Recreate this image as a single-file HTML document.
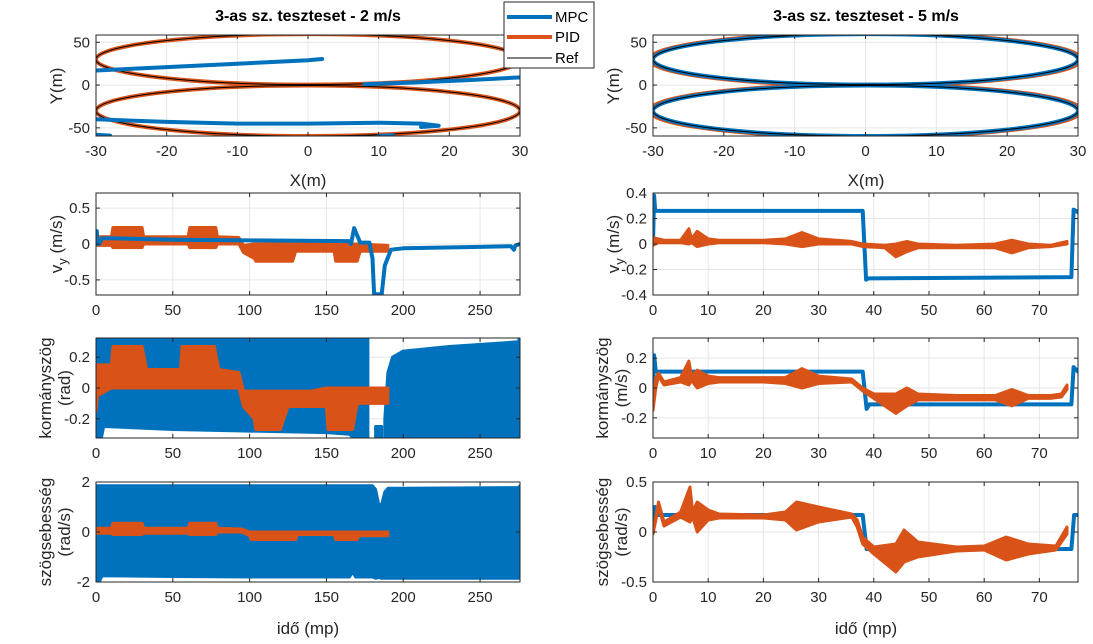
<!DOCTYPE html>
<html><head><meta charset="utf-8"><style>
html,body{margin:0;padding:0;background:#fff}
svg{display:block;font-family:"Liberation Sans",Arial,sans-serif}
</style></head><body>
<svg id="fig" width="1093" height="644" viewBox="0 0 1093 644" xmlns="http://www.w3.org/2000/svg">
<text x="308" y="21" font-size="16" font-weight="bold" text-anchor="middle" fill="#000">3-as sz. teszteset - 2 m/s</text>
<text x="866" y="21" font-size="16" font-weight="bold" text-anchor="middle" fill="#000">3-as sz. teszteset - 5 m/s</text>
</svg>
<script>
// ---------- DATA ----------
const xTicksTraj = [-30,-20,-10,0,10,20,30];
const yTicksTraj = [-50,0,50];
const xTicksLeft = [0,50,100,150,200,250];
const xTicksRight = [0,10,20,30,40,50,60,70];
const refEllipses = [[0,30,30,29.5],[0,-30,30,29.5]]; // cx, cy, rx, ry (m)
const mpcLeftTraj1 = [[-30,17],[-20,21],[-10,25],[0,29],[2,30.5]];
const mpcLeftTraj2 = [[8,1],[15,3],[22,5.5],[30,9]];
const mpcLeftTraj3 = [[-30,-40],[-20,-43],[-10,-45],[0,-45],[10,-44],[16,-45],[18.5,-47.5],[16,-49]];
const mpcLeftTraj4 = [[-30,-58],[-28,-59]];
const mpcLeftTraj5 = [[10,-59.5],[12,-58.5]];
// Row 2 left: v_y
const vyMpcL_t = [0,0.5,1,2,4,10,50,100,165,166,168,170,172,178,180,181,186,188,192,200,250,270,272,273,276];
const vyMpcL_v = [0.05,0.18,0.0,0.0,0.08,0.08,0.06,0.05,0.04,0.0,0.22,0.12,0.02,0.02,-0.2,-0.7,-0.7,-0.3,-0.08,-0.06,-0.04,-0.03,-0.08,-0.02,0.0];
const vyPidL_t  = [0,10,11,30,31,60,61,78,79,93,96,103,104,128,130,150,155,156,170,172,190];
const vyPidL_hi = [0.1,0.1,0.23,0.23,0.1,0.1,0.23,0.23,0.1,0.09,-0.02,0.0,0.0,0.0,0.0,0.02,0.0,0.0,0.0,0.0,-0.02];
const vyPidL_lo = [-0.02,-0.02,-0.05,-0.05,0.0,0.0,-0.05,-0.05,0.0,0.0,-0.12,-0.2,-0.24,-0.24,-0.1,-0.1,-0.1,-0.24,-0.24,-0.1,-0.1];
// Row 3 left: steering
const stMpcL_t  = [0,3,5,50,100,150,165,170,172,177];
const stMpcL_hi = [0.35,0.35,0.35,0.35,0.35,0.35,0.35,0.35,0.35,0.35];
const stMpcL_lo = [-0.35,-0.35,-0.25,-0.27,-0.28,-0.29,-0.3,-0.35,-0.35,-0.35];
const stMpcL2_t  = [182,186];
const stMpcL2_hi = [-0.25,-0.25];
const stMpcL2_lo = [-0.35,-0.35];
const stMpcL3_t  = [188,190,193,200,230,275,276];
const stMpcL3_hi = [-0.2,0.1,0.2,0.24,0.27,0.3,0.35];
const stMpcL3_lo = [-0.35,-0.35,-0.35,-0.35,-0.35,-0.35,-0.35];
const stPidL_t  = [0,1,10,11,30,33,55,56,77,80,93,96,103,104,120,125,140,150,151,167,170,190];
const stPidL_hi = [0.15,0.15,0.15,0.27,0.27,0.12,0.12,0.27,0.27,0.12,0.1,-0.02,-0.02,-0.02,-0.02,-0.02,-0.02,0.0,0.0,0.0,0.0,0.0];
const stPidL_lo = [-0.15,-0.05,0.0,0.0,0.0,0.0,0.0,0.0,0.0,0.0,0.0,-0.12,-0.2,-0.27,-0.27,-0.12,-0.12,-0.12,-0.27,-0.27,-0.1,-0.1];
// Row 4 left: yaw rate
const yrMpcL_t  = [0,2,4,50,100,165,167,169,180,182,184,186,188,190,200,275,276];
const yrMpcL_hi = [1.85,1.85,1.85,1.85,1.85,1.85,1.85,1.85,1.85,1.7,1.1,1.1,1.6,1.75,1.75,1.78,1.85];
const yrMpcL_lo = [-2,-2,-1.75,-1.78,-1.8,-1.8,-1.6,-1.8,-1.8,-1.85,-1.82,-1.85,-1.85,-1.85,-1.85,-1.85,-1.85];
const yrPidL_t  = [0,10,11,30,31,60,61,78,79,95,100,101,130,131,150,155,156,170,171,190];
const yrPidL_hi = [0.15,0.15,0.35,0.35,0.15,0.15,0.35,0.35,0.15,0.12,0.0,0.0,0.0,0.0,0.0,0.0,0.0,0.0,0.0,0.0];
const yrPidL_lo = [-0.05,-0.05,-0.1,-0.1,-0.05,-0.05,-0.1,-0.1,0.0,0.0,-0.15,-0.3,-0.3,-0.1,-0.1,-0.1,-0.3,-0.3,-0.15,-0.15];
// Right column
const vyMpcR_t = [0,0.2,0.4,1,38,38.6,39,75.8,76.2,77];
const vyMpcR_v = [0.0,0.38,0.26,0.26,0.26,-0.28,-0.27,-0.26,0.27,0.25];
const vyPidR_t  = [0,1,2,5,6.5,7,8,10,12,20,24,27,30,36,38,42,44,46,48,55,62,65,68,72,75];
const vyPidR_hi = [0.05,0.04,0.03,0.03,0.12,0.04,0.1,0.04,0.03,0.03,0.04,0.09,0.04,0.02,0.0,-0.01,0.0,0.02,0.0,-0.01,0.0,0.03,0.0,-0.01,0.02];
const vyPidR_lo = [-0.01,0.01,0.01,0.01,0.0,0.01,-0.02,0.0,0.01,0.01,0.0,-0.02,0.0,0.0,-0.02,-0.03,-0.1,-0.06,-0.03,-0.03,-0.03,-0.07,-0.03,-0.02,0.0];
const stMpcR_t = [0,0.2,0.5,1,38,38.7,39.2,75.8,76.2,77];
const stMpcR_v = [0.0,0.22,0.11,0.11,0.11,-0.14,-0.11,-0.11,0.14,0.11];
const stPidR_t  = [0,0.5,1,2,5,6.5,7,8,10,12,20,24,27,30,36,38,40,44,46,48,55,62,65,68,72,74,75];
const stPidR_hi = [-0.15,0.07,0.1,0.04,0.07,0.18,0.08,0.12,0.08,0.07,0.07,0.07,0.13,0.08,0.06,0.0,-0.04,-0.04,0.0,-0.04,-0.05,-0.05,-0.01,-0.05,-0.05,-0.04,0.02];
const stPidR_lo = [-0.15,0.0,0.08,0.02,0.04,0.02,0.05,0.0,0.03,0.04,0.04,0.03,0.0,0.03,0.04,-0.02,-0.07,-0.17,-0.12,-0.08,-0.08,-0.08,-0.12,-0.07,-0.07,-0.06,-0.01];
const yrMpcR_t = [0,0.3,0.6,38,38.7,75.8,76.3,77];
const yrMpcR_v = [0.0,0.25,0.17,0.17,-0.17,-0.17,0.17,0.17];
const yrPidR_t  = [0,1,2,5,6.7,7.2,8,10,12,20,24,26,30,36,37,38,40,44,45.5,48,55,60,64,68,73,75];
const yrPidR_hi = [0.0,0.3,0.1,0.2,0.45,0.2,0.3,0.22,0.18,0.17,0.2,0.3,0.25,0.18,0.12,-0.05,-0.15,-0.12,0.02,-0.1,-0.15,-0.14,-0.05,-0.12,-0.14,0.05];
const yrPidR_lo = [-0.02,0.25,0.06,0.15,0.1,0.15,0.0,0.12,0.14,0.14,0.12,0.02,0.1,0.15,0.05,-0.12,-0.22,-0.4,-0.3,-0.25,-0.19,-0.18,-0.28,-0.22,-0.18,-0.02];

// ---------- DRAWING ----------
const NS='http://www.w3.org/2000/svg';
const svg=document.getElementById('fig');
const BLUE='#0072BD', ORANGE='#D95319';
function mk(tag,attrs,parent){const e=document.createElementNS(NS,tag);for(const k in attrs)e.setAttribute(k,attrs[k]);(parent||svg).appendChild(e);return e;}
let clipId=0;
function panel(o){
  const g=mk('g',{});
  
  
  const sx=v=>o.x0+(v-o.xmin)/(o.xmax-o.xmin)*(o.x1-o.x0);
  const sy=v=>o.y1-(v-o.ymin)/(o.ymax-o.ymin)*(o.y1-o.y0);
  mk('rect',{x:o.x0,y:o.y0,width:o.x1-o.x0,height:o.y1-o.y0,fill:'#fff'},g);
  o.xt.forEach(t=>{const x=sx(t);mk('line',{x1:x,x2:x,y1:o.y0,y2:o.y1,stroke:'#e6e6e6','stroke-width':1},g);});
  o.yt.forEach(t=>{const y=sy(t);mk('line',{x1:o.x0,x2:o.x1,y1:y,y2:y,stroke:'#e6e6e6','stroke-width':1},g);});
  const id='c'+(clipId++);
  const cp=mk('clipPath',{id:id},g);mk('rect',{x:o.x0,y:o.y0,width:o.x1-o.x0,height:o.y1-o.y0},cp);
  const plot=mk('g',{'clip-path':'url(#'+id+')'},g);
  const api={sx,sy,plot,
    line(ts,vs,color,w,nm){const d=ts.map((t,i)=>(i?'L':'M')+sx(t).toFixed(1)+' '+sy(vs[i]).toFixed(1)).join('');
      const p=mk('path',{d:d,fill:'none',stroke:color,'stroke-width':w,'stroke-linejoin':'round','stroke-linecap':'round'},plot);
      
      return p;},
    xy(pts,color,w,nm){const d=pts.map((p,i)=>(i?'L':'M')+sx(p[0]).toFixed(1)+' '+sy(p[1]).toFixed(1)).join('');
      const p=mk('path',{d:d,fill:'none',stroke:color,'stroke-width':w,'stroke-linejoin':'round','stroke-linecap':'round'},plot);
      
      return p;},
    band(ts,hi,lo,color,nm){let d='';ts.forEach((t,i)=>d+=(i?'L':'M')+sx(t).toFixed(1)+' '+sy(hi[i]).toFixed(1));
      for(let i=ts.length-1;i>=0;i--)d+='L'+sx(ts[i]).toFixed(1)+' '+sy(lo[i]).toFixed(1);d+='Z';
      const p=mk('path',{d:d,fill:color,stroke:color,'stroke-width':3,'stroke-linejoin':'round'},plot);
      
      return p;},
    ellipse(e,color,w,nm){const p=mk('ellipse',{cx:sx(e[0]),cy:sy(e[1]),rx:Math.abs(sx(e[2])-sx(0)),ry:Math.abs(sy(0)-sy(e[3])),fill:'none',stroke:color,'stroke-width':w},plot);
      
      return p;}
  };
  api.finish=function(){
    mk('rect',{x:o.x0,y:o.y0,width:o.x1-o.x0,height:o.y1-o.y0,fill:'none',stroke:'#262626','stroke-width':1},g);
    o.xt.forEach(t=>{const x=sx(t);
      mk('line',{x1:x,x2:x,y1:o.y1,y2:o.y1-4,stroke:'#262626'},g);mk('line',{x1:x,x2:x,y1:o.y0,y2:o.y0+4,stroke:'#262626'},g);
      const tx=mk('text',{x:x,y:o.y1+20,'font-size':15,'text-anchor':'middle',fill:'#262626'},g);tx.textContent=t;
      
      });
    o.yt.forEach(t=>{const y=sy(t);
      mk('line',{x1:o.x0,x2:o.x0+4,y1:y,y2:y,stroke:'#262626'},g);mk('line',{x1:o.x1,x2:o.x1-4,y1:y,y2:y,stroke:'#262626'},g);
      const tx=mk('text',{x:o.x0-6,y:y+5,'font-size':15,'text-anchor':'end',fill:'#262626'},g);tx.textContent=(o.yfmt?o.yfmt(t):t);
      
      });
  };
  return api;
}
const L={x0:96,x1:520}, R={x0:653,x1:1078};
const rows=[{y0:35,y1:136},{y0:193,y1:295},{y0:338,y1:438},{y0:482,y1:582}];
const fmt=v=>v===0?'0':String(v);

// Row 1
let p=panel({name:'trajectory-left',x0:L.x0,x1:L.x1,y0:rows[0].y0,y1:rows[0].y1,xmin:-30,xmax:30,ymin:-59.5,ymax:58.5,xt:xTicksTraj,yt:yTicksTraj});
refEllipses.forEach(e=>p.ellipse(e,ORANGE,4,'pid-trajectory'));
refEllipses.forEach(e=>p.ellipse(e,'#000',1,'ref-trajectory'));
[mpcLeftTraj1,mpcLeftTraj2,mpcLeftTraj3,mpcLeftTraj4,mpcLeftTraj5].forEach(t=>p.xy(t,BLUE,4,'mpc-trajectory'));
p.finish();
p=panel({name:'trajectory-right',x0:R.x0,x1:R.x1,y0:rows[0].y0,y1:rows[0].y1,xmin:-30,xmax:30,ymin:-59.5,ymax:58.5,xt:xTicksTraj,yt:yTicksTraj});
refEllipses.forEach(e=>p.ellipse([e[0],e[1],e[2]+0.5,e[3]+1],ORANGE,4,'pid-trajectory'));
refEllipses.forEach(e=>p.ellipse(e,BLUE,4,'mpc-trajectory'));
refEllipses.forEach(e=>p.ellipse(e,'#000',1,'ref-trajectory'));
p.finish();
// Row 2
p=panel({name:'vy-left',x0:L.x0,x1:L.x1,y0:rows[1].y0,y1:rows[1].y1,xmin:0,xmax:276,ymin:-0.71,ymax:0.71,xt:xTicksLeft,yt:[-0.5,0,0.5],yfmt:fmt});
p.band(vyPidL_t,vyPidL_hi,vyPidL_lo,ORANGE,'pid-vy');
p.line(vyMpcL_t,vyMpcL_v,BLUE,4,'mpc-vy');
p.finish();
p=panel({name:'vy-right',x0:R.x0,x1:R.x1,y0:rows[1].y0,y1:rows[1].y1,xmin:0,xmax:77,ymin:-0.4,ymax:0.4,xt:xTicksRight,yt:[-0.4,-0.2,0,0.2,0.4],yfmt:fmt});
p.line(vyMpcR_t,vyMpcR_v,BLUE,4,'mpc-vy');
p.band(vyPidR_t,vyPidR_hi,vyPidR_lo,ORANGE,'pid-vy');
p.finish();
// Row 3
p=panel({name:'steering-left',x0:L.x0,x1:L.x1,y0:rows[2].y0,y1:rows[2].y1,xmin:0,xmax:276,ymin:-0.325,ymax:0.325,xt:xTicksLeft,yt:[-0.2,0,0.2],yfmt:fmt});
p.band(stMpcL_t,stMpcL_hi,stMpcL_lo,BLUE,'mpc-steering');
p.band(stMpcL2_t,stMpcL2_hi,stMpcL2_lo,BLUE,'mpc-steering');
p.band(stMpcL3_t,stMpcL3_hi,stMpcL3_lo,BLUE,'mpc-steering');
p.band(stPidL_t,stPidL_hi,stPidL_lo,ORANGE,'pid-steering');
p.finish();
p=panel({name:'steering-right',x0:R.x0,x1:R.x1,y0:rows[2].y0,y1:rows[2].y1,xmin:0,xmax:77,ymin:-0.335,ymax:0.335,xt:xTicksRight,yt:[-0.2,0,0.2],yfmt:fmt});
p.line(stMpcR_t,stMpcR_v,BLUE,4,'mpc-steering');
p.band(stPidR_t,stPidR_hi,stPidR_lo,ORANGE,'pid-steering');
p.finish();
// Row 4
p=panel({name:'yawrate-left',x0:L.x0,x1:L.x1,y0:rows[3].y0,y1:rows[3].y1,xmin:0,xmax:276,ymin:-2,ymax:2,xt:xTicksLeft,yt:[-2,0,2]});
p.band(yrMpcL_t,yrMpcL_hi,yrMpcL_lo,BLUE,'mpc-yawrate');
p.band(yrPidL_t,yrPidL_hi,yrPidL_lo,ORANGE,'pid-yawrate');
p.finish();
p=panel({name:'yawrate-right',x0:R.x0,x1:R.x1,y0:rows[3].y0,y1:rows[3].y1,xmin:0,xmax:77,ymin:-0.5,ymax:0.5,xt:xTicksRight,yt:[-0.5,0,0.5],yfmt:fmt});
p.line(yrMpcR_t,yrMpcR_v,BLUE,4,'mpc-yawrate');
p.band(yrPidR_t,yrPidR_hi,yrPidR_lo,ORANGE,'pid-yawrate');
p.finish();

// Axis labels
function label(txt,x,y,rot,nm){const t=mk('text',{x:x,y:y,'font-size':17,'text-anchor':'middle',fill:'#262626',transform:rot?'rotate(-90 '+x+' '+y+')':''});t.textContent=txt;
  
  return t;}
label('X(m)',308,186,false,'x-axis-title');
label('X(m)',866,186,false,'x-axis-title');
label('Y(m)',62,86,true,'y-axis-title');
label('Y(m)',619,86,true,'y-axis-title');
[[62,244],[619,244]].forEach(([x,y])=>{const t=mk('text',{x:x,y:y,'font-size':17,'text-anchor':'middle',fill:'#262626',transform:'rotate(-90 '+x+' '+y+')'});
  
  
  t.innerHTML='v<tspan dy="5" font-size="13">y</tspan><tspan dy="-5"> (m/s)</tspan>';});
label('kormányszög',51,388,true,'y-axis-title');
label('(rad)',70,388,true,'y-axis-title');
label('kormányszög',608,388,true,'y-axis-title');
label('(m/s)',627,388,true,'y-axis-title');
label('szögsebesség',51,532,true,'y-axis-title');
label('(rad/s)',70,532,true,'y-axis-title');
label('szögsebesség',608,532,true,'y-axis-title');
label('(rad/s)',627,532,true,'y-axis-title');
label('idő (mp)',308,634,false,'x-axis-title');
label('idő (mp)',866,634,false,'x-axis-title');

// Legend
const lg=mk('g',{});


mk('rect',{x:504,y:2,width:90,height:66,fill:'#fff',stroke:'#262626','stroke-width':1},lg);
[['MPC',BLUE,4,17],['PID',ORANGE,4,37],['Ref','#000',1,58]].forEach(([n,c,w,y])=>{
  const e=mk('g',{},lg);
  
  
  mk('line',{x1:507,x2:552,y1:y,y2:y,stroke:c,'stroke-width':w},e);
  const t=mk('text',{x:555,y:y+5,'font-size':15,fill:'#000'},e);t.textContent=n;});
</script>
</body></html>
